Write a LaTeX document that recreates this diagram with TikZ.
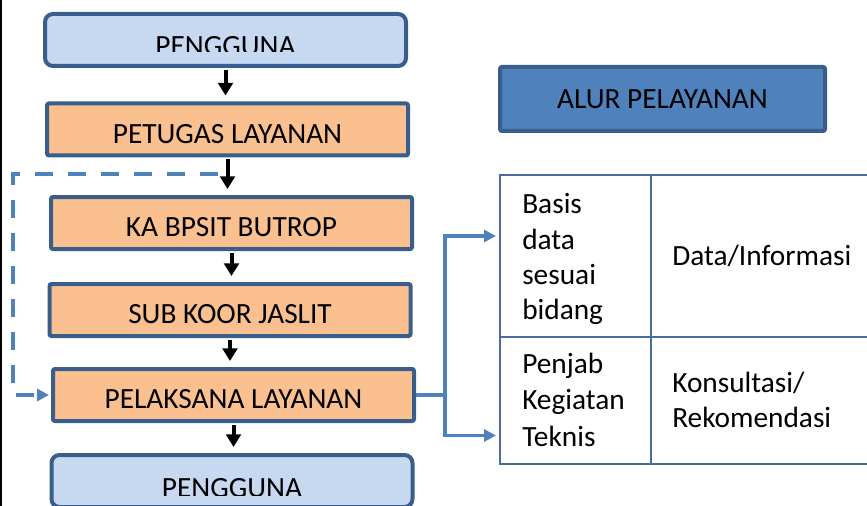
\documentclass[tikz,border=0pt]{standalone}
\usepackage{fontspec}
\setmainfont{Carlito}
\usetikzlibrary{arrows.meta,calc}
\definecolor{boxline}{HTML}{3A5E8C}
\definecolor{userfill}{HTML}{C6D9F1}
\definecolor{stafffill}{HTML}{FAC090}
\definecolor{titlefill}{HTML}{4F81BD}
\definecolor{flowblue}{HTML}{4F81BD}
\definecolor{gridline}{HTML}{4A6C9C}
\begin{document}
\begin{tikzpicture}[x=0.75pt,y=-0.75pt,
  font=\fontsize{22}{26.5}\selectfont,
  box/.style={draw=boxline, line width=3pt, minimum width=270.75pt, minimum height=39pt, inner sep=0pt},
  userbox/.style={box, fill=userfill, rounded corners=6pt},
  staffbox/.style={box, fill=stafffill, rounded corners=1.5pt, text height=20.7pt, text depth=0pt},
  flow/.style={line width=3pt, shorten <=1.5pt, shorten >=4.5pt, -{Triangle[width=11pt,length=9.5pt]}},
  link/.style={draw=flowblue, line width=2.4pt, -{Triangle[width=9pt,length=9pt]}},
  cell/.style={draw=gridline, line width=1.5pt, inner sep=0pt},
  celltext/.style={anchor=base west, align=left, text width=140pt, inner sep=0pt}
]
\useasboundingbox (0,0) rectangle (867,506);
\draw[line width=1.5pt] (1,0) -- (1,506);

% service chain
\node[userbox] (u1) at (225.5,40) {};
\node[staffbox] (s1) at (227.5,129.5) {PETUGAS LAYANAN};
\node[staffbox] (s2) at (231.5,223) {KA BPSIT BUTROP};
\node[staffbox] (s3) at (230,310) {SUB KOOR JASLIT};
\node[staffbox] (s4) at (233.5,395) {PELAKSANA LAYANAN};
\node[userbox] (u2) at (232,481) {};

% user labels, cut off by the text area of their boxes
\begin{scope}
  \clip (u1.north west) rectangle ($(u1.east)+(0,12)$);
  \node[text height=23.2pt, text depth=0pt, inner sep=0pt] (u1text) at (u1) {PENGGUNA};
\end{scope}
\begin{scope}
  \clip (u2.north west) rectangle ($(u2.east)+(0,14)$);
  \node[text height=24.8pt, text depth=0pt, inner sep=0pt] (u2text) at (u2) {PENGGUNA};
\end{scope}

% title
\node[draw=boxline, fill=titlefill, line width=3pt, rounded corners=1.5pt,
      minimum width=243.75pt, minimum height=48pt, inner sep=0pt] (title) at (662.5,99) {ALUR PELAYANAN};

% output table
\node[cell, minimum width=113.25pt, minimum height=121.5pt] (c11) at (575.5,256) {};
\node[cell, minimum width=201.75pt, minimum height=121.5pt] (c12) at (785.5,256) {};
\node[cell, minimum width=113.25pt, minimum height=95.25pt] (c21) at (575.5,400.5) {};
\node[cell, minimum width=201.75pt, minimum height=95.25pt] (c22) at (785.5,400.5) {};
\node[celltext] (basis) at (522,214) {Basis\\data\\sesuai\\bidang};
\node[celltext] (data) at (672,265) {Data/Informasi};
\node[celltext, font=\fontsize{22}{27.5}\selectfont] (penjab) at (522,373) {Penjab\\Kegiatan\\Teknis};
\node[celltext] (konsul) at (672,392) {Konsultasi/\\Rekomendasi};

% main flow
\draw[flow] (u1.south) -- (u1.south |- s1.north);
\draw[flow] (s1.south) -- (s1.south |- s2.north);
\draw[flow] (s2.south) -- (s2.south |- s3.north);
\draw[flow] (s3.south) -- (s3.south |- s4.north);
\draw[flow] (s4.south) -- (s4.south |- u2.north);

% bypass from the front desk straight to the executor
\coordinate (loopstart) at (218,174);
\draw[link, dash pattern=on 13.5pt off 11.25pt, shorten >=1.5pt] (loopstart) -- (13,174) |- (s4.west);

% executor fans out to the two kinds of output
\coordinate (fork) at (445,395);
\draw[link] (s4.east) -- (fork) |- ($(c11.west)+(-3,-20)$);
\draw[link] (fork) |- ($(c21.west)+(-3,35)$);
\end{tikzpicture}
\end{document}
